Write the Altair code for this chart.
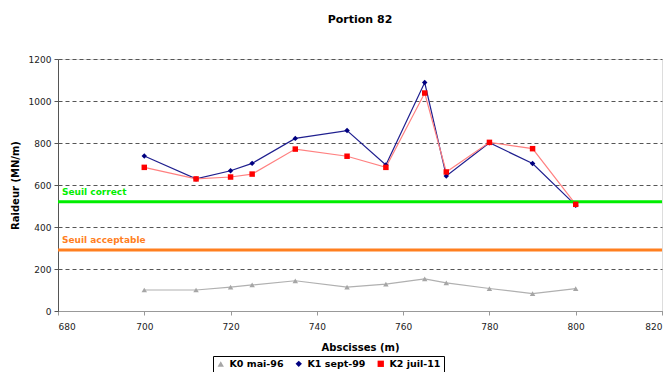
import altair as alt
import pandas as pd

abscisses = [700, 712, 720, 725, 735, 747, 756, 765, 770, 780, 790, 800]
k0 = [100, 100, 114, 124, 144, 114, 128, 153, 134, 107, 83, 107]
k1 = [738, 629, 668, 703, 822, 859, 695, 1088, 643, 801, 702, 503]
k2 = [684, 629, 638, 652, 771, 737, 684, 1038, 662, 803, 773, 508]
series_names = ["K0 mai-96", "K1 sept-99", "K2 juil-11"]
marker_colors = ["#a6a6a6", "#000080", "#ff0000"]
line_colors = ["#b0b0b0", "#1f1f8f", "#ff8080"]
shapes = ["triangle-up", "diamond", "square"]
thresholds = [520, 290]
threshold_names = ["Seuil correct", "Seuil acceptable"]
threshold_colors = ["#00ee00", "#ff7f1f"]

rows = []
for name, vals in zip(series_names, [k0, k1, k2]):
    for x, y in zip(abscisses, vals):
        rows.append({"x": x, "y": y, "serie": name})
df = pd.DataFrame(rows)
thr = pd.DataFrame({"y": thresholds, "label": threshold_names, "color": threshold_colors})

FONT = "DejaVu Sans"
xs = alt.Scale(domain=[680, 820], nice=False, zero=False)
ys = alt.Scale(domain=[0, 1200], nice=False)

base = alt.Chart(df)

lines = base.mark_line(strokeWidth=1.2).encode(
    x=alt.X("x:Q", scale=xs, axis=alt.Axis(values=list(range(680, 821, 20)), title="Abscisses (m)", grid=False,
                                          format="d",
                                          titleFont=FONT, titleFontSize=10, titleFontWeight="bold",
                                          labelFont=FONT, labelFontSize=9, labelColor="#222", domainColor="#999",
                                          tickColor="#999", tickSize=4, titlePadding=11, labelPadding=7)),
    y=alt.Y("y:Q", scale=ys, axis=alt.Axis(values=list(range(0, 1201, 200)), title="Raideur (MN/m)",
                                          format="d",
                                          grid=True, gridDash=[4, 3], gridColor="#555", gridWidth=1,
                                          titleFont=FONT, titleFontSize=10, titleFontWeight="bold",
                                          labelFont=FONT, labelFontSize=9, labelColor="#222", domainColor="#555",
                                          tickColor="#555", tickSize=4, labelPadding=3, titlePadding=8)),
    color=alt.Color("serie:N", scale=alt.Scale(domain=series_names, range=line_colors), legend=None),
    detail="serie:N",
)

legend_cfg = dict(title=None, orient="none", legendX=155, legendY=297, direction="horizontal",
                  strokeColor="#000", padding=3, labelFont=FONT, labelFontSize=9.5,
                  labelFontWeight="bold", symbolSize=40, columnPadding=8, labelOffset=4)

points = base.mark_point(filled=True, opacity=1, size=30).encode(
    x=alt.X("x:Q", scale=xs),
    y=alt.Y("y:Q", scale=ys),
    fill=alt.Fill("serie:N", scale=alt.Scale(domain=series_names, range=marker_colors),
                  legend=alt.Legend(**legend_cfg)),
    shape=alt.Shape("serie:N", scale=alt.Scale(domain=series_names, range=shapes),
                    legend=alt.Legend(**legend_cfg)),
)

rules = alt.Chart(thr).mark_rule(strokeWidth=3).encode(
    y=alt.Y("y:Q", scale=ys),
    color=alt.Color("color:N", scale=None),
)

labels = alt.Chart(thr).mark_text(align="left", baseline="bottom", dx=4, dy=-5, font=FONT,
                                  fontSize=9, fontWeight="bold").encode(
    x=alt.value(0),
    y=alt.Y("y:Q", scale=ys),
    text="label:N",
    color=alt.Color("color:N", scale=None),
)

chart = alt.layer(lines, rules, labels, points).resolve_scale(color="independent").properties(
    width=604, height=252,
    title=alt.Title("Portion 82", font=FONT, fontSize=11, fontWeight="bold", offset=30, color="#000"),
    autosize=alt.AutoSizeParams(type="none"),
    padding={"left": 50, "top": 51, "right": 2, "bottom": 61},
).configure_view(stroke="#888", strokeWidth=1).configure(background="white")

chart.save("out.html", embed_options={"renderer": "svg", "actions": False})
